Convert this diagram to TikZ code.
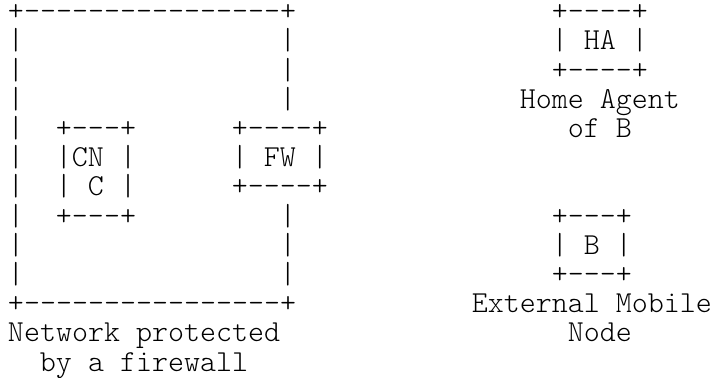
\documentclass[tikz,border=0pt]{standalone}
\usepackage{fontspec}
\setmonofont{lmmonolt10-regular.otf}
\usetikzlibrary{positioning}
\tikzset{
	art/.style={anchor=base west, inner sep=0pt, outer sep=0pt, font=\ttfamily\fontsize{30.48pt}{29.2pt}\selectfont}
}

\begin{document}
\begin{tikzpicture}[x=16pt, y=-29.2pt]
	\useasboundingbox (-0.5,-0.709) rectangle (44.19,12.236);
	% network behind the firewall
	\node[art] at (0,0) (ftop) {+----------------+};
	\foreach \r in {1,...,9} \node[art] at (0,\r) (fl\r) {|};
	\foreach \r in {1,2,3,7,8,9} \node[art] at (17,\r) (fr\r) {|};
	\node[art] at (0,10) (fbot) {+----------------+};
	\node[art] at (0,11) (net1) {Network protected};
	\node[art] at (2,12) (net2) {by a firewall};
	% correspondent node
	\node[art] at (3,4) (cn1) {+---+};
	\node[art] at (3,5) (cn2) {|CN~|};
	\node[art] at (3,6) (cn3) {|~C~|};
	\node[art] at (3,7) (cn4) {+---+};
	% firewall
	\node[art] at (14,4) (fw1) {+----+};
	\node[art] at (14,5) (fw2) {|~FW~|};
	\node[art] at (14,6) (fw3) {+----+};
	% home agent
	\node[art] at (34,0) (ha1) {+----+};
	\node[art] at (34,1) (ha2) {|~HA~|};
	\node[art] at (34,2) (ha3) {+----+};
	\node[art] at (32,3) (ha4) {Home Agent};
	\node[art] at (35,4) (ha5) {of B};
	% mobile node
	\node[art] at (34,7) (b1) {+---+};
	\node[art] at (34,8) (b2) {|~B~|};
	\node[art] at (34,9) (b3) {+---+};
	\node[art] at (29,10) (b4) {External Mobile};
	\node[art] at (35,11) (b5) {Node};
\end{tikzpicture}
\end{document}
